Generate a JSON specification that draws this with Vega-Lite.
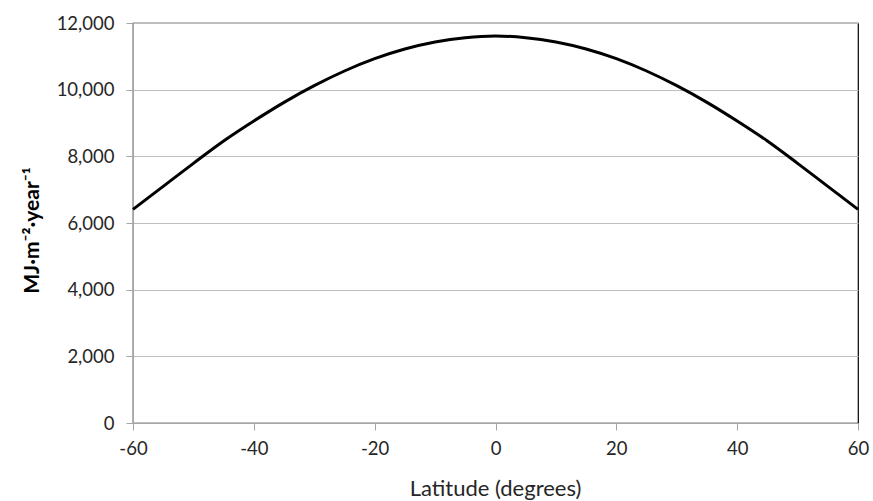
{
  "$schema": "https://vega.github.io/schema/vega-lite/v6.json",
  "autosize": "none",
  "width": 725,
  "height": 400,
  "padding": {"left": 133, "top": 23, "right": 15, "bottom": 78},
  "background": "white",
  "config": {
    "view": {"stroke": "black", "strokeWidth": 1.2},
    "font": "Lato",
    "axis": {
      "labelFont": "Lato",
      "labelFontSize": 18.5,
      "labelColor": "#262626",
      "domainColor": "#a6a6a6",
      "tickColor": "#a6a6a6",
      "gridColor": "#bdbdbd",
      "tickSize": 7,
      "zindex": 1
    }
  },
  "data": {
    "values": [
      {"lat": -60, "v": 6410},
      {"lat": -55, "v": 7100},
      {"lat": -50, "v": 7790},
      {"lat": -45, "v": 8460},
      {"lat": -40, "v": 9060},
      {"lat": -35, "v": 9620},
      {"lat": -30, "v": 10120},
      {"lat": -25, "v": 10560},
      {"lat": -20, "v": 10930},
      {"lat": -15, "v": 11220},
      {"lat": -10, "v": 11430},
      {"lat": -5, "v": 11560},
      {"lat": 0, "v": 11610},
      {"lat": 5, "v": 11560},
      {"lat": 10, "v": 11430},
      {"lat": 15, "v": 11220},
      {"lat": 20, "v": 10930},
      {"lat": 25, "v": 10560},
      {"lat": 30, "v": 10120},
      {"lat": 35, "v": 9620},
      {"lat": 40, "v": 9060},
      {"lat": 45, "v": 8460},
      {"lat": 50, "v": 7790},
      {"lat": 55, "v": 7100},
      {"lat": 60, "v": 6410}
    ]
  },
  "mark": {"type": "line", "color": "black", "strokeWidth": 3, "interpolate": "monotone"},
  "encoding": {
    "x": {
      "field": "lat",
      "type": "quantitative",
      "scale": {"domain": [-60, 60], "nice": false, "zero": false},
      "axis": {
        "values": [-60, -40, -20, 0, 20, 40, 60],
        "grid": false,
        "labelPadding": 9,
        "labelFlush": false,
        "labelExpr": "replace(datum.label, '−', '-')",
        "title": "Latitude (degrees)",
        "titleFont": "Lato",
        "titleFontSize": 22,
        "titleFontWeight": "normal",
        "titleColor": "#262626",
        "titleX": 362,
        "titleY": 65,
        "titleAnchor": null,
        "titleBaseline": "middle"
      }
    },
    "y": {
      "field": "v",
      "type": "quantitative",
      "scale": {"domain": [0, 12000], "nice": false},
      "axis": {
        "values": [0, 2000, 4000, 6000, 8000, 10000, 12000],
        "format": ",.0f",
        "grid": true,
        "labelPadding": 12,
        "title": "MJ·m⁻²·year⁻¹",
        "titleFont": "Lato",
        "titleFontSize": 21,
        "titleFontWeight": "bold",
        "titleColor": "black",
        "titleAngle": -90,
        "titleX": -101,
        "titleY": 207,
        "titleAlign": "center",
        "titleBaseline": "middle"
      }
    }
  }
}
